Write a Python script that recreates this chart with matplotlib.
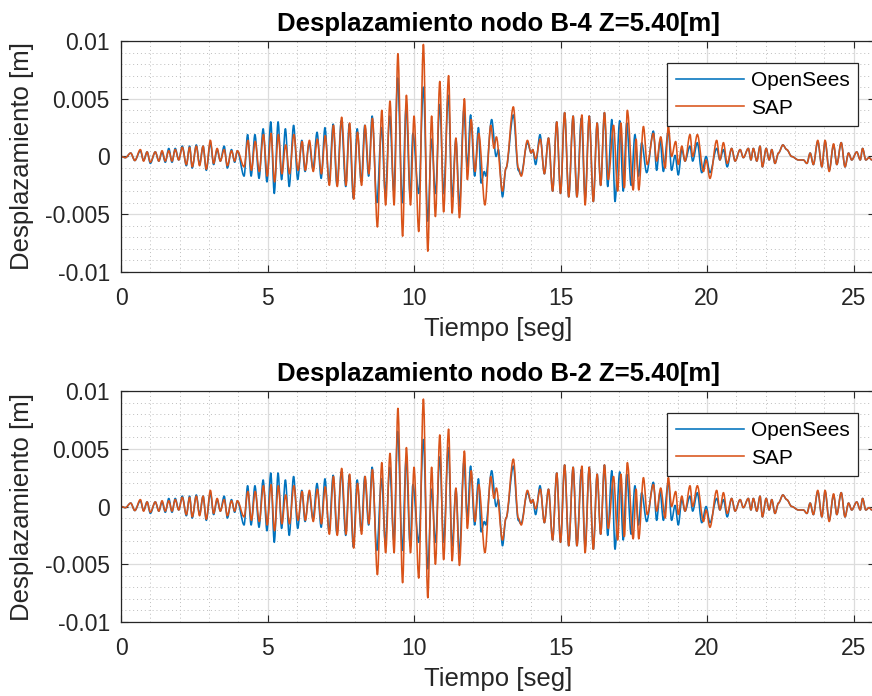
import matplotlib
matplotlib.use("Agg")
import matplotlib.pyplot as plt
from matplotlib.ticker import MultipleLocator
from matplotlib.path import Path
from matplotlib.patches import PathPatch
from matplotlib.lines import Line2D

plt.rcParams['font.family'] = ['Liberation Sans', 'DejaVu Sans']

# ---------------- data (extrema of the response histories) -----------
t_os = [0, 0.15, 0.33, 0.47, 0.66, 0.77, 0.89, 1.0, 1.17, 1.29, 1.40, 1.51, 1.63, 1.74, 1.85, 1.97,
        2.09, 2.23, 2.34, 2.43, 2.57, 2.68, 2.80, 2.91, 3.05, 3.16, 3.28, 3.39, 3.52, 3.63, 3.77, 3.88,
        3.97, 4.2, 4.32, 4.44, 4.57, 4.71, 4.85, 4.98, 5.11, 5.23, 5.36, 5.48, 5.61, 5.74, 5.89, 6.03,
        6.17, 6.28, 6.42, 6.55, 6.69, 6.83, 6.96, 7.1, 7.24, 7.37, 7.52, 7.67, 7.79, 7.93, 8.06, 8.2,
        8.32, 8.45, 8.57, 8.73, 8.89, 9.02, 9.17, 9.31, 9.44, 9.6, 9.73, 9.87, 9.96, 10.16, 10.32, 10.47,
        10.6, 10.73, 10.88, 11.01, 11.17, 11.3, 11.43, 11.55, 11.7, 11.82, 11.93, 12.07, 12.2, 12.29,
        12.4, 12.45, 12.65, 12.8, 12.88, 13.02, 13.14, 13.39, 13.56, 13.65, 13.87, 14.0, 14.05, 14.15,
        14.3, 14.45, 14.59, 14.73, 14.87, 15.0, 15.14, 15.28, 15.43, 15.56, 15.71, 15.84, 15.98, 16.12,
        16.25, 16.37, 16.5, 16.61, 16.75, 16.86, 17.02, 17.14, 17.26, 17.41, 17.54, 17.66, 17.77, 17.94,
        18.17, 18.28, 18.40, 18.51, 18.68, 18.79, 18.91, 19.02, 19.14, 19.25, 19.42, 19.51, 19.67, 19.82,
        19.97, 20.1, 20.33, 20.44, 20.56, 20.69, 20.84, 20.96, 21.13, 21.24, 21.41, 21.5, 21.58, 21.7,
        21.81, 21.89, 22.02, 22.12, 22.21, 22.32, 22.44, 22.59, 22.72, 22.89, 23.12, 23.29, 23.41, 23.52,
        23.63, 23.78, 23.92, 24.03, 24.17, 24.32, 24.43, 24.58, 24.71, 24.83, 24.94, 25.11, 25.23, 25.31,
        25.42, 25.53, 25.63, 25.75]

d_os_b4 = [0, -0.0001, 0.0003, -0.00035, 0.0005, -0.00035, 0.0004, -0.0006, 0.0004, -0.0004, 0.0004,
           -0.0005, 0.0007, -0.0005, 0.0007, -0.0003, 0.0009, -0.0008, 0.0009, -0.001, 0.001, -0.0007,
           0.0009, -0.0012, 0.0012, -0.0007, 0.0006, -0.0004, 0.0009, -0.001, 0.0006, -0.0005, 0.0005,
           -0.0017, 0.0019, -0.0017, 0.0019, -0.0019, 0.0024, -0.0022, 0.003, -0.0032, 0.003, -0.002,
           0.0024, -0.0026, 0.0027, -0.002, 0.0014, -0.0013, 0.0012, -0.0011, 0.0021, -0.0019, 0.0025,
           -0.0023, 0.0028, -0.0025, 0.0031, -0.0026, 0.0028, -0.0036, 0.0024, -0.0022, 0.0027, -0.0017,
           0.0035, -0.004, 0.0025, -0.0032, 0.0035, -0.003, 0.0068, -0.004, 0.0043, -0.0035, 0.002,
           -0.0032, 0.006, -0.0056, 0.0015, -0.0032, 0.0045, -0.0032, 0.0053, -0.0035, 0.0015, -0.0043,
           0.004, -0.0009, 0.0036, -0.0017, 0.0025, -0.0023, -0.0013, -0.0017, 0.0032, 0.0, 0.0006,
           -0.0035, -0.001, 0.0036, -0.0012, -0.0016, 0.0012, 0.0003, 0.0006, -0.0007, 0.0019, -0.0015,
           0.0016, -0.003, 0.003, -0.0032, 0.0038, -0.0035, 0.0035, -0.0035, 0.0033, -0.0036, 0.0035,
           -0.0039, 0.0029, -0.0025, 0.0038, -0.0026, 0.0032, -0.0039, 0.0031, -0.003, 0.0029, -0.0025,
           0.0019, -0.0017, 0.0012, -0.0014, 0.0022, -0.0012, 0.0014, -0.0013, 0.0022, -0.0012, 0.0001,
           -0.0016, 0.0006, -0.0004, 0.0009, -0.0004, 0.0012, -0.0014, 0.0, -0.0014, 0.0007, -0.0003,
           0.0006, -0.0009, 0.0007, -0.0004, 0.0006, -0.0001, 0.0007, -0.0003, 0.0007, -0.0004, 0.0009,
           -0.0009, 0.0007, -0.0003, 0.0006, -0.0006, 0.0003, 0.001, 0.0006, 0.0, -0.0003, -0.0003,
           -0.0006, 0.0003, -0.0007, 0.0013, -0.0009, 0.0013, -0.0012, 0.001, -0.0007, 0.0012, -0.0009,
           0.0003, -0.0003, 0.0004, -0.0003, 0.0007, -0.0003, -0.0001, -0.0003, -0.0002]

t_sap = [0, 0.15, 0.33, 0.47, 0.66, 0.77, 0.89, 1.0, 1.17, 1.29, 1.40, 1.51, 1.63, 1.74, 1.85, 1.97,
         2.09, 2.23, 2.34, 2.43, 2.57, 2.68, 2.80, 2.91, 3.05, 3.16, 3.28, 3.39, 3.52, 3.63, 3.77, 3.88,
         3.97, 4.2, 4.33, 4.45, 4.58, 4.72, 4.86, 4.99, 5.12, 5.24, 5.37, 5.49, 5.62, 5.75, 5.9, 6.04,
         6.18, 6.29, 6.43, 6.56, 6.7, 6.84, 6.97, 7.11, 7.25, 7.38, 7.53, 7.68, 7.8, 7.94, 8.07, 8.21,
         8.33, 8.46, 8.58, 8.75, 8.9, 9.03, 9.18, 9.32, 9.45, 9.61, 9.74, 9.88, 10.0, 10.16, 10.32,
         10.47, 10.6, 10.73, 10.88, 11.01, 11.18, 11.3, 11.43, 11.55, 11.72, 11.82, 11.95, 12.08, 12.21,
         12.42, 12.62, 12.73, 12.81, 13.02, 13.14, 13.39, 13.56, 13.66, 13.87, 14.0, 14.05, 14.15, 14.31,
         14.45, 14.59, 14.73, 14.87, 15.0, 15.14, 15.28, 15.43, 15.56, 15.73, 15.84, 15.98, 16.12, 16.25,
         16.37, 16.5, 16.63, 16.81, 16.95, 17.06, 17.18, 17.28, 17.48, 17.58, 17.67, 17.83, 17.96, 18.17,
         18.28, 18.42, 18.57, 18.68, 18.79, 18.93, 19.02, 19.14, 19.25, 19.42, 19.51, 19.67, 19.88,
         19.97, 20.1, 20.33, 20.44, 20.56, 20.69, 20.84, 20.96, 21.13, 21.24, 21.41, 21.5, 21.58, 21.7,
         21.81, 21.89, 22.02, 22.12, 22.21, 22.32, 22.44, 22.59, 22.72, 22.89, 23.12, 23.29, 23.41,
         23.52, 23.63, 23.78, 23.92, 24.03, 24.17, 24.32, 24.43, 24.58, 24.71, 24.83, 24.94, 25.11,
         25.23, 25.31, 25.42, 25.53, 25.63, 25.75]

d_sap_b4 = [0, -0.0001, 0.0003, -0.00035, 0.0006, -0.0004, 0.0004, -0.0005, 0.0004, -0.0004, 0.0005,
            -0.0004, 0.0005, -0.0004, 0.0006, -0.0003, 0.0008, -0.0007, 0.0008, -0.0009, 0.0009, -0.0008,
            0.0009, -0.0011, 0.0014, -0.0006, 0.0007, -0.0004, 0.0006, -0.0008, 0.0005, -0.0004, 0.0005,
            -0.0009, 0.0014, -0.0012, 0.0013, -0.0013, 0.0019, -0.0017, 0.002, -0.0022, 0.0019, -0.0015,
            0.001, -0.0015, 0.0019, -0.0012, 0.0013, -0.0012, 0.0014, -0.0013, 0.0015, -0.0015, 0.0018,
            -0.0025, 0.0027, -0.0026, 0.0034, -0.0025, 0.0029, -0.0037, 0.0021, -0.0025, 0.0027, -0.0015,
            0.0033, -0.0061, 0.004, -0.0042, 0.0048, -0.0042, 0.0089, -0.0069, 0.0053, -0.0042, 0.0035,
            -0.0065, 0.0097, -0.0082, 0.0035, -0.0052, 0.0065, -0.0048, 0.007, -0.0049, 0.0016, -0.0053,
            0.005, -0.002, 0.0032, -0.0013, 0.002, -0.0042, 0.0027, 0.0007, 0.0017, -0.003, -0.001, 0.0043,
            -0.001, -0.0017, 0.0014, 0.0003, 0.0006, -0.0002, 0.0015, -0.0015, 0.0016, -0.003, 0.003,
            -0.0032, 0.0038, -0.0035, 0.0035, -0.0035, 0.0036, -0.0042, 0.0035, -0.0039, 0.0029, -0.0025,
            0.0038, -0.002, 0.0027, -0.003, 0.0029, -0.0027, 0.004, -0.0029, 0.0015, -0.0029, 0.0026,
            -0.0007, 0.002, -0.0004, 0.0017, -0.001, 0.0026, 0.0, 0.0013, -0.0007, 0.0009, -0.0004, 0.0019,
            0.0, 0.0019, -0.0013, -0.0003, -0.0019, 0.0014, -0.0003, 0.0012, -0.0006, 0.0007, -0.0004,
            0.0006, -0.0001, 0.0007, -0.0003, 0.0007, -0.0004, 0.0009, -0.0009, 0.0007, -0.0003, 0.0006,
            -0.0006, 0.0003, 0.001, 0.0006, 0.0, -0.0003, -0.0003, -0.0006, 0.0003, -0.0007, 0.0014,
            -0.0009, 0.0014, -0.0013, 0.0011, -0.0007, 0.0012, -0.0009, 0.0003, -0.0003, 0.0004, -0.0003,
            0.0007, -0.0003, -0.0001, -0.0003, -0.0002]

d_os_b2 = [0, -0.0001, 0.0003, -0.00035, 0.0005, -0.00035, 0.0004, -0.0006, 0.0004, -0.0004, 0.0004,
           -0.0005, 0.0007, -0.0005, 0.0007, -0.0003, 0.0009, -0.0008, 0.0009, -0.001, 0.001, -0.0007,
           0.0009, -0.0012, 0.0012, -0.0007, 0.0006, -0.0004, 0.0009, -0.001, 0.0006, -0.0005, 0.0005,
           -0.0016, 0.0018, -0.0016, 0.0018, -0.0018, 0.0023, -0.0021, 0.0029, -0.0031, 0.0029, -0.0019,
           0.0023, -0.0025, 0.0026, -0.0019, 0.0014, -0.0013, 0.0012, -0.0011, 0.002, -0.0018, 0.0024,
           -0.0022, 0.0027, -0.0024, 0.003, -0.0025, 0.0027, -0.0035, 0.0023, -0.0021, 0.0026, -0.0016,
           0.0034, -0.0038, 0.0024, -0.0031, 0.0034, -0.0029, 0.0065, -0.0038, 0.0041, -0.0034, 0.0019,
           -0.0031, 0.0058, -0.0054, 0.0015, -0.0031, 0.0043, -0.0031, 0.0051, -0.0034, 0.0015, -0.0041,
           0.0038, -0.0009, 0.0035, -0.0016, 0.0024, -0.0022, -0.0013, -0.0016, 0.0031, 0.0, 0.0006,
           -0.0034, -0.001, 0.0035, -0.0012, -0.0015, 0.0012, 0.0003, 0.0006, -0.0007, 0.0018, -0.0014,
           0.0015, -0.0029, 0.0029, -0.0031, 0.0036, -0.0034, 0.0034, -0.0034, 0.0032, -0.0035, 0.0034,
           -0.0037, 0.0028, -0.0024, 0.0036, -0.0025, 0.0031, -0.0037, 0.003, -0.0029, 0.0028, -0.0024,
           0.0018, -0.0016, 0.0012, -0.0013, 0.0021, -0.0012, 0.0013, -0.0012, 0.0021, -0.0012, 0.0001,
           -0.0016, 0.0006, -0.0004, 0.0009, -0.0004, 0.0012, -0.0014, 0.0, -0.0014, 0.0007, -0.0003,
           0.0006, -0.0009, 0.0007, -0.0004, 0.0006, -0.0001, 0.0007, -0.0003, 0.0007, -0.0004, 0.0009,
           -0.0009, 0.0007, -0.0003, 0.0006, -0.0006, 0.0003, 0.001, 0.0006, 0.0, -0.0003, -0.0003,
           -0.0006, 0.0003, -0.0007, 0.0013, -0.0009, 0.0013, -0.0012, 0.001, -0.0007, 0.0012, -0.0009,
           0.0003, -0.0003, 0.0004, -0.0003, 0.0007, -0.0003, -0.0001, -0.0003, -0.0002]

d_sap_b2 = [0, -0.0001, 0.0003, -0.00035, 0.0006, -0.0004, 0.0004, -0.0005, 0.0004, -0.0004, 0.0005,
            -0.0004, 0.0005, -0.0004, 0.0006, -0.0003, 0.0008, -0.0007, 0.0008, -0.0009, 0.0009, -0.0008,
            0.0009, -0.0011, 0.0014, -0.0006, 0.0007, -0.0004, 0.0006, -0.0008, 0.0005, -0.0004, 0.0005,
            -0.0009, 0.0013, -0.0012, 0.0013, -0.0013, 0.0018, -0.0016, 0.0019, -0.0021, 0.0018, -0.0015,
            0.001, -0.0015, 0.0018, -0.0012, 0.0013, -0.0012, 0.0014, -0.0013, 0.0015, -0.0015, 0.0017,
            -0.0024, 0.0026, -0.0025, 0.0033, -0.0024, 0.0028, -0.0036, 0.002, -0.0024, 0.0026, -0.0015,
            0.0032, -0.0059, 0.0038, -0.004, 0.0046, -0.004, 0.0085, -0.0066, 0.0051, -0.004, 0.0034,
            -0.0062, 0.0093, -0.0079, 0.0034, -0.005, 0.0062, -0.0046, 0.0067, -0.0047, 0.0016, -0.0051,
            0.0048, -0.0019, 0.0031, -0.0013, 0.0019, -0.004, 0.0026, 0.0007, 0.0016, -0.0029, -0.001,
            0.0041, -0.001, -0.0016, 0.0014, 0.0003, 0.0006, -0.0002, 0.0015, -0.0014, 0.0015, -0.0029,
            0.0029, -0.0031, 0.0036, -0.0034, 0.0034, -0.0034, 0.0035, -0.004, 0.0034, -0.0037, 0.0028,
            -0.0024, 0.0036, -0.0019, 0.0026, -0.0029, 0.0028, -0.0026, 0.0038, -0.0028, 0.0015, -0.0028,
            0.0025, -0.0007, 0.0019, -0.0004, 0.0016, -0.001, 0.0025, 0.0, 0.0013, -0.0007, 0.0009, -0.0004,
            0.0018, 0.0, 0.0018, -0.0013, -0.0003, -0.0018, 0.0014, -0.0003, 0.0012, -0.0006, 0.0007,
            -0.0004, 0.0006, -0.0001, 0.0007, -0.0003, 0.0007, -0.0004, 0.0009, -0.0009, 0.0007, -0.0003,
            0.0006, -0.0006, 0.0003, 0.001, 0.0006, 0.0, -0.0003, -0.0003, -0.0006, 0.0003, -0.0007,
            0.0014, -0.0009, 0.0014, -0.0013, 0.0011, -0.0007, 0.0012, -0.0009, 0.0003, -0.0003, 0.0004,
            -0.0003, 0.0007, -0.0003, -0.0001, -0.0003, -0.0002]

titles = ["Desplazamiento nodo B-4 Z=5.40[m]", "Desplazamiento nodo B-2 Z=5.40[m]"]
series_names = ["OpenSees", "SAP"]
y_ticks = [-0.01, -0.005, 0, 0.005, 0.01]
y_ticklabels = ["-0.01", "-0.005", "0", "0.005", "0.01"]
x_ticks = [0, 5, 10, 15, 20, 25]

# ---------------- styling -----------------
C_BLUE = (0.0, 0.447, 0.741)
C_ORANGE = (0.85, 0.325, 0.098)
AX_COLOR = "#262626"
LW = 1.15


def smooth_path(ts, vs):
    """Bezier path through the extrema (horizontal tangents at each turning point)."""
    verts = [(ts[0], vs[0])]
    codes = [Path.MOVETO]
    for i in range(1, len(ts)):
        dt = ts[i] - ts[i - 1]
        verts += [(ts[i - 1] + dt / 3, vs[i - 1]), (ts[i] - dt / 3, vs[i]), (ts[i], vs[i])]
        codes += [Path.CURVE4, Path.CURVE4, Path.CURVE4]
    return Path(verts, codes)


fig = plt.figure(figsize=(8.72, 6.96), dpi=100)
ax_pos = [[0.1388, 0.6092, 0.8652, 0.3319],
          [0.1388, 0.1063, 0.8652, 0.3319]]
data = [(d_os_b4, d_sap_b4), (d_os_b2, d_sap_b2)]

for pos, title, (d_os, d_sap) in zip(ax_pos, titles, data):
    ax = fig.add_axes(pos)
    for ts, vs, col in ((t_os, d_os, C_BLUE), (t_sap, d_sap, C_ORANGE)):
        ax.add_patch(PathPatch(smooth_path(ts, vs), facecolor='none', edgecolor=col,
                               lw=LW, joinstyle='round', capstyle='round'))
    ax.set_xlim(0, 25.75)
    ax.set_ylim(-0.01, 0.01)
    ax.set_xticks(x_ticks)
    ax.set_xticklabels([str(v) for v in x_ticks])
    ax.set_yticks(y_ticks)
    ax.set_yticklabels(y_ticklabels)
    ax.xaxis.set_minor_locator(MultipleLocator(1))
    ax.yaxis.set_minor_locator(MultipleLocator(0.001))
    ax.grid(which='major', color='#dcdcdc', lw=0.9, ls='-')
    ax.grid(which='minor', color='#bdbdbd', lw=0.7, ls=(0, (1, 3)))
    ax.set_axisbelow(True)
    ax.tick_params(which='major', direction='in', length=5, width=0.8, colors=AX_COLOR,
                   labelsize=16.5, top=True, right=True)
    ax.tick_params(axis='x', which='major', pad=11)
    ax.tick_params(axis='y', which='major', pad=8)
    ax.tick_params(which='minor', length=0)
    for sp in ax.spines.values():
        sp.set_color(AX_COLOR)
        sp.set_linewidth(0.9)
    ax.set_xlabel("Tiempo [seg]", fontsize=18.5, color=AX_COLOR, labelpad=5)
    ax.set_ylabel("Desplazamiento [m]", fontsize=18.5, color=AX_COLOR, labelpad=8)
    ax.set_title(title, fontsize=18.5, fontweight='bold', color='black', pad=7.5)
    handles = [Line2D([], [], color=C_BLUE, lw=LW), Line2D([], [], color=C_ORANGE, lw=LW)]
    leg = ax.legend(handles, series_names, loc='upper right', bbox_to_anchor=(0.977, 0.905),
                    fontsize=15, handlelength=3.3, handletextpad=0.32, borderpad=0.4,
                    labelspacing=0.4, fancybox=False, framealpha=1, edgecolor=AX_COLOR,
                    borderaxespad=0)
    leg.get_frame().set_linewidth(0.9)
    for txt in leg.get_texts():
        txt.set_color('black')

fig.savefig("out.png", dpi=100)
